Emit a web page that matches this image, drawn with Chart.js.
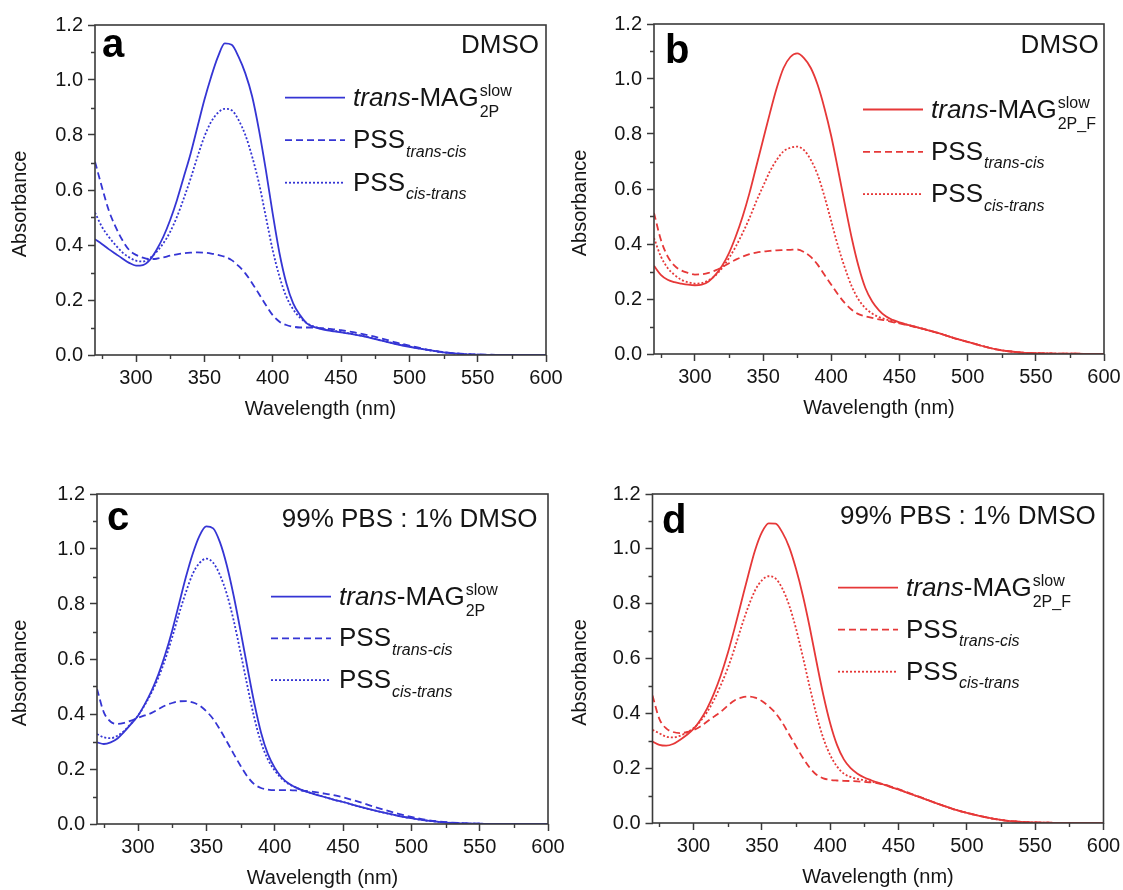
<!DOCTYPE html>
<html><head><meta charset="utf-8">
<script src="https://cdn.jsdelivr.net/npm/chart.js@4.4.1/dist/chart.umd.min.js"></script>
<style>
html,body{margin:0;padding:0;background:#fff;}
#wrap{position:relative;width:1123px;height:890px;overflow:hidden;background:#fff;}
canvas{position:absolute;}
</style></head><body>
<div id="wrap">
<canvas id="ca" width="600" height="440" style="left:0;top:0"></canvas>
<canvas id="cc" width="600" height="445" style="left:0;top:445px"></canvas>
<canvas id="cb" width="562" height="440" style="left:561px;top:0"></canvas>
<canvas id="cd" width="562" height="445" style="left:561px;top:445px"></canvas>
</div>
<script>
// ---------------- data ----------------
const WAVELENGTH = [270,275,280,285,290,295,300,305,310,315,320,325,330,335,340,345,350,355,360,365,370,375,380,385,390,395,400,405,410,415,420,425,430,435,440,445,450,460,470,480,490,500,510,520,530,540,550,560,570,580,590,600];

const A_TRANS     = [0.421,0.404,0.385,0.368,0.351,0.335,0.325,0.327,0.345,0.382,0.430,0.491,0.564,0.648,0.733,0.830,0.927,1.012,1.085,1.133,1.128,1.085,1.024,0.940,0.818,0.673,0.515,0.370,0.261,0.188,0.145,0.115,0.102,0.095,0.090,0.086,0.082,0.074,0.064,0.052,0.040,0.030,0.021,0.013,0.007,0.003,0.001,0,0,0,0,0];
const A_TRANS_CIS = [0.703,0.612,0.527,0.467,0.418,0.382,0.364,0.354,0.349,0.350,0.355,0.361,0.366,0.370,0.372,0.373,0.372,0.369,0.364,0.357,0.345,0.324,0.297,0.261,0.222,0.182,0.145,0.121,0.109,0.103,0.100,0.100,0.100,0.098,0.096,0.093,0.090,0.082,0.072,0.060,0.046,0.034,0.023,0.014,0.008,0.004,0.002,0.001,0,0,0,0];
const A_CIS_TRANS = [0.518,0.467,0.430,0.400,0.373,0.355,0.343,0.340,0.352,0.375,0.406,0.448,0.503,0.570,0.642,0.721,0.794,0.848,0.881,0.895,0.890,0.855,0.800,0.721,0.624,0.503,0.382,0.285,0.212,0.166,0.136,0.116,0.104,0.097,0.092,0.088,0.084,0.075,0.065,0.053,0.041,0.031,0.021,0.013,0.007,0.003,0.001,0,0,0,0,0];

const B_TRANS     = [0.321,0.288,0.270,0.261,0.256,0.252,0.250,0.252,0.264,0.288,0.321,0.367,0.428,0.500,0.585,0.682,0.779,0.876,0.967,1.040,1.080,1.093,1.076,1.040,0.979,0.894,0.792,0.670,0.543,0.422,0.319,0.240,0.191,0.159,0.137,0.124,0.115,0.101,0.088,0.074,0.058,0.044,0.030,0.018,0.010,0.005,0.003,0.002,0.001,0.001,0,0];
const B_TRANS_CIS = [0.513,0.416,0.355,0.321,0.304,0.295,0.289,0.290,0.295,0.304,0.316,0.330,0.343,0.354,0.363,0.369,0.373,0.375,0.377,0.378,0.379,0.380,0.371,0.353,0.325,0.288,0.252,0.216,0.185,0.161,0.145,0.137,0.131,0.126,0.122,0.116,0.111,0.100,0.088,0.074,0.058,0.044,0.030,0.018,0.010,0.005,0.003,0.002,0.001,0.001,0,0];
const B_CIS_TRANS = [0.422,0.355,0.313,0.288,0.270,0.261,0.256,0.258,0.268,0.285,0.313,0.349,0.391,0.440,0.494,0.555,0.610,0.664,0.706,0.737,0.750,0.754,0.741,0.706,0.652,0.573,0.482,0.391,0.313,0.246,0.198,0.167,0.147,0.134,0.126,0.119,0.113,0.101,0.088,0.074,0.058,0.044,0.030,0.018,0.010,0.005,0.003,0.002,0.001,0.001,0,0];

const C_TRANS     = [0.297,0.291,0.297,0.311,0.336,0.364,0.394,0.436,0.485,0.545,0.618,0.703,0.800,0.897,0.982,1.048,1.082,1.075,1.024,0.940,0.830,0.703,0.570,0.442,0.333,0.255,0.205,0.170,0.148,0.134,0.123,0.115,0.107,0.100,0.093,0.086,0.080,0.066,0.053,0.041,0.030,0.021,0.013,0.008,0.004,0.002,0.001,0,0,0,0,0];
const C_TRANS_CIS = [0.491,0.406,0.372,0.364,0.368,0.376,0.386,0.395,0.404,0.418,0.431,0.440,0.446,0.447,0.442,0.431,0.410,0.382,0.343,0.300,0.255,0.212,0.173,0.145,0.131,0.125,0.123,0.123,0.123,0.122,0.121,0.119,0.116,0.112,0.108,0.103,0.097,0.083,0.067,0.052,0.038,0.026,0.016,0.009,0.005,0.002,0.001,0,0,0,0,0];
const C_CIS_TRANS = [0.327,0.315,0.312,0.321,0.339,0.366,0.394,0.433,0.479,0.533,0.600,0.679,0.764,0.842,0.909,0.949,0.965,0.950,0.905,0.836,0.740,0.624,0.503,0.388,0.297,0.235,0.195,0.166,0.146,0.134,0.123,0.115,0.107,0.100,0.093,0.086,0.080,0.066,0.053,0.041,0.030,0.021,0.013,0.008,0.004,0.002,0.001,0,0,0,0,0];

const D_TRANS     = [0.297,0.285,0.282,0.288,0.303,0.321,0.343,0.376,0.418,0.473,0.539,0.618,0.709,0.806,0.903,0.994,1.060,1.093,1.092,1.060,1.006,0.927,0.830,0.715,0.588,0.467,0.364,0.285,0.232,0.200,0.180,0.166,0.156,0.147,0.139,0.130,0.122,0.104,0.086,0.068,0.051,0.037,0.025,0.015,0.008,0.004,0.002,0.001,0,0,0,0];
const D_TRANS_CIS = [0.465,0.380,0.345,0.332,0.328,0.331,0.339,0.352,0.370,0.388,0.406,0.428,0.447,0.457,0.461,0.457,0.445,0.426,0.401,0.366,0.323,0.280,0.238,0.202,0.176,0.163,0.157,0.155,0.154,0.153,0.152,0.150,0.148,0.145,0.140,0.132,0.124,0.105,0.087,0.068,0.051,0.037,0.025,0.015,0.008,0.004,0.002,0.001,0,0,0,0];
const D_CIS_TRANS = [0.340,0.327,0.315,0.312,0.318,0.330,0.346,0.371,0.405,0.449,0.503,0.564,0.636,0.715,0.788,0.848,0.885,0.900,0.892,0.855,0.794,0.709,0.606,0.497,0.394,0.309,0.248,0.206,0.180,0.168,0.161,0.156,0.151,0.146,0.139,0.130,0.122,0.104,0.086,0.068,0.051,0.037,0.025,0.015,0.008,0.004,0.002,0.001,0,0,0,0];

const X_TICKS = [300,350,400,450,500,550,600];
const X_MINOR = [275,325,375,425,475,525,575];
const Y_TICKS = [0,0.2,0.4,0.6,0.8,1.0,1.2];
const Y_MINOR = [0.1,0.3,0.5,0.7,0.9,1.1];

const PANEL_LETTERS = ['a','b','c','d'];
const PANEL_TITLES = ['DMSO','DMSO','99% PBS : 1% DMSO','99% PBS : 1% DMSO'];
const COMPOUND_SUBS = ['2P','2P_F','2P','2P_F'];

// ---------------- styles / layout ----------------
const FONT = "'Liberation Sans', Arial, Helvetica, sans-serif";
const FRAME = '#3a3a3a';
const TEXT = '#151515';
const BLUE = '#3535d4';
const RED = '#e63838';
const LINE_W = 1.8;

const LAYOUT = [
  {id:'ca', top:25, right:54,   yw:95,   xh:85, xtb:19, ytp:8, letter:[102,57], title:[539,53],   leg:[285,97.7,42.5]},
  {id:'cb', top:24, right:19,   yw:93,   xh:86, xtb:20, ytp:7, letter:[104,63], title:[537.6,53], leg:[302,109.5,42.3]},
  {id:'cc', top:49, right:52,   yw:97,   xh:66, xtb:0,  ytp:8, letter:[107,85], title:[537.5,82], leg:[271,151.7,41.7]},
  {id:'cd', top:49, right:19.5, yw:91.5, xh:67, xtb:1,  ytp:7, letter:[101,88], title:[534.7,79], leg:[277,142.7,42]}
];

function xy(arr){ return WAVELENGTH.map((w,i)=>({x:w, y:arr[i]})); }

const decoPlugin = {
  id:'deco',
  afterDraw(chart, args, o){
    const ctx = chart.ctx, ca = chart.chartArea;
    const xs = chart.scales.x, ys = chart.scales.y;
    ctx.save();
    // frame
    ctx.strokeStyle = FRAME; ctx.lineWidth = 1.6; ctx.setLineDash([]);
    ctx.strokeRect(ca.left, ca.top, ca.right-ca.left, ca.bottom-ca.top);
    // minor ticks
    ctx.lineWidth = 1.4;
    ctx.beginPath();
    X_MINOR.forEach(v=>{ const p = Math.round(xs.getPixelForValue(v))+0.5; ctx.moveTo(p, ca.bottom); ctx.lineTo(p, ca.bottom+4); });
    Y_MINOR.forEach(v=>{ const p = Math.round(ys.getPixelForValue(v))+0.5; ctx.moveTo(ca.left, p); ctx.lineTo(ca.left-4, p); });
    ctx.stroke();
    // panel letter
    ctx.fillStyle = '#000';
    ctx.textBaseline = 'alphabetic';
    ctx.textAlign = 'left';
    ctx.font = 'bold 40px ' + FONT;
    ctx.fillText(o.letter, o.letterPos[0], o.letterPos[1]);
    // solvent title
    ctx.fillStyle = TEXT;
    ctx.textAlign = 'right';
    ctx.font = '26px ' + FONT;
    ctx.fillText(o.title, o.titlePos[0], o.titlePos[1]);
    // legend
    ctx.textAlign = 'left';
    const [lx, ly, ldy] = o.leg;
    chart.data.datasets.forEach((ds, i)=>{
      const y = ly + i*ldy;
      ctx.strokeStyle = ds.borderColor; ctx.lineWidth = ds.borderWidth;
      ctx.setLineDash(ds.borderDash || []);
      ctx.beginPath(); ctx.moveTo(lx, y); ctx.lineTo(lx+60, y); ctx.stroke();
      ctx.setLineDash([]);
      let x = lx + 68;
      const base = y + 8;
      ctx.fillStyle = TEXT;
      ds.rich.main.forEach(seg=>{
        ctx.font = (seg[1] ? 'italic ' : '') + '26px ' + FONT;
        ctx.fillText(seg[0], x, base);
        x += ctx.measureText(seg[0]).width;
      });
      x += 1;
      if (ds.rich.sup){
        ctx.font = '16px ' + FONT;
        ctx.fillText(ds.rich.sup, x, base - 10);
      }
      if (ds.rich.sub){
        ctx.font = (ds.rich.subItalic ? 'italic ' : '') + '16px ' + FONT;
        ctx.fillText(ds.rich.sub, x, base + (ds.rich.sup ? 11 : 8.5));
      }
    });
    ctx.restore();
  }
};

function makePanel(idx, color, series){
  const L = LAYOUT[idx];
  const datasets = [
    {data: xy(series[0]), borderColor: color, borderWidth: LINE_W, borderDash: [],
     rich:{main:[['trans',true],['-MAG',false]], sup:'slow', sub:COMPOUND_SUBS[idx]}},
    {data: xy(series[1]), borderColor: color, borderWidth: LINE_W, borderDash: [7,4],
     rich:{main:[['PSS',false]], sub:'trans-cis', subItalic:true}},
    {data: xy(series[2]), borderColor: color, borderWidth: LINE_W, borderDash: [2,2],
     rich:{main:[['PSS',false]], sub:'cis-trans', subItalic:true}}
  ];
  new Chart(document.getElementById(L.id), {
    type:'line',
    data:{datasets},
    plugins:[decoPlugin],
    options:{
      responsive:false, animation:false, events:[],
      layout:{padding:{left:0, top:L.top, right:L.right, bottom:0}},
      elements:{point:{radius:0}, line:{tension:0.4, cubicInterpolationMode:'monotone', fill:false}},
      plugins:{
        legend:{display:false}, tooltip:{enabled:false},
        deco:{letter:PANEL_LETTERS[idx], letterPos:L.letter, title:PANEL_TITLES[idx], titlePos:L.title, leg:L.leg}
      },
      scales:{
        x:{type:'linear', min:270, max:600,
          afterBuildTicks:s=>{ s.ticks = X_TICKS.map(v=>({value:v})); },
          afterFit:s=>{ s.height = L.xh; s.paddingLeft = 0; s.paddingRight = 0; },
          border:{display:false},
          grid:{drawOnChartArea:false, drawTicks:true, tickLength:7, tickColor:FRAME, tickWidth:1.5},
          ticks:{font:{size:20, family:FONT}, color:TEXT, padding:4, maxRotation:0, autoSkip:false},
          title:{display:true, text:'Wavelength (nm)', color:TEXT, font:{size:20, family:FONT}, padding:{top:0, bottom:L.xtb}}
        },
        y:{type:'linear', min:0, max:1.2,
          afterBuildTicks:s=>{ s.ticks = Y_TICKS.map(v=>({value:v})); },
          afterFit:s=>{ s.width = L.yw; s.paddingTop = 0; s.paddingBottom = 0; },
          border:{display:false},
          grid:{drawOnChartArea:false, drawTicks:true, tickLength:7, tickColor:FRAME, tickWidth:1.5},
          ticks:{font:{size:20, family:FONT}, color:TEXT, padding:5, callback:v=>Number(v).toFixed(1)},
          // trailing spaces shift the centred title slightly downward, as in the original figure
          title:{display:true, text:'Absorbance     ', color:TEXT, font:{size:20, family:FONT}, padding:{top:L.ytp, bottom:0}}
        }
      }
    }
  });
}

makePanel(0, BLUE, [A_TRANS, A_TRANS_CIS, A_CIS_TRANS]);
makePanel(1, RED,  [B_TRANS, B_TRANS_CIS, B_CIS_TRANS]);
makePanel(2, BLUE, [C_TRANS, C_TRANS_CIS, C_CIS_TRANS]);
makePanel(3, RED,  [D_TRANS, D_TRANS_CIS, D_CIS_TRANS]);
</script>
</body></html>
